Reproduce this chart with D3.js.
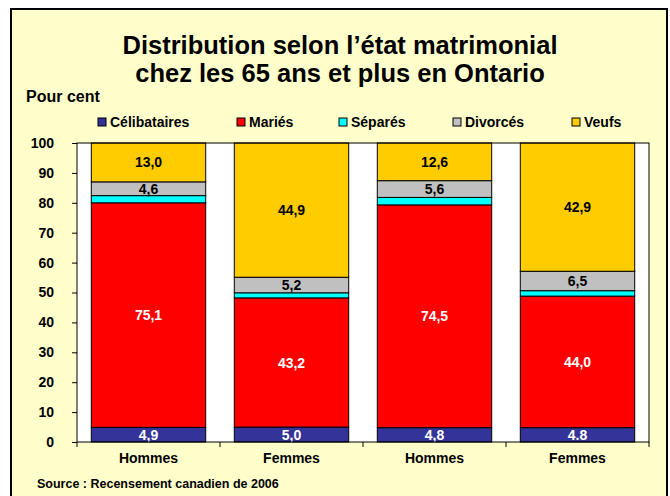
<!DOCTYPE html>
<html>
<head>
<meta charset="utf-8">
<title>Distribution selon l'état matrimonial</title>
<script src="https://d3js.org/d3.v7.min.js"></script>
<style>
  body { margin: 0; background: #fff; }
  text { font-family: Arial, "Liberation Sans", sans-serif; font-weight: bold; }
</style>
</head>
<body>
<script>
// données (pour cent)
var categories = ["Hommes", "Femmes", "Hommes", "Femmes"];
var seriesNames = ["Célibataires", "Mariés", "Séparés", "Divorcés", "Veufs"];
var celibataires = [4.9, 5.0, 4.8, 4.8];
var maries = [75.1, 43.2, 74.5, 44.0];
var separes = [2.4, 1.7, 2.5, 1.8];
var divorces = [4.6, 5.2, 5.6, 6.5];
var veufs = [13.0, 44.9, 12.6, 42.9];
var yTicks = [0, 10, 20, 30, 40, 50, 60, 70, 80, 90, 100];
var celibatairesText = ["4,9", "5,0", "4,8", "4.8"]; // tel quel dans l'original

var colors = ["#333399", "#FF0000", "#00FFFF", "#C0C0C0", "#FFCC00"];
var labelColors = ["#fff", "#fff", null, "#000", "#000"]; // null = pas d'étiquette
var legendX = [98, 237, 339, 453, 572];

var values = [celibataires, maries, separes, divorces, veufs];
var fmt = function (v) { return d3.format(".1f")(v).replace(".", ","); };

var svg = d3.select("body").append("svg")
    .attr("width", 670)
    .attr("height", 496);

// cadre
svg.append("rect")
    .attr("x", 11).attr("y", 9)
    .attr("width", 656).attr("height", 500)
    .attr("fill", "#FFFFCC")
    .attr("stroke", "#000")
    .attr("stroke-width", 2);

// titre
var title = svg.append("text")
    .attr("x", 340)
    .attr("text-anchor", "middle")
    .attr("font-size", 25.5);
title.append("tspan").attr("x", 340).attr("y", 54).text("Distribution selon l\u2019état matrimonial");
title.append("tspan").attr("x", 340).attr("y", 82).text("chez les 65 ans et plus en Ontario");

svg.append("text")
    .attr("x", 26).attr("y", 102)
    .attr("font-size", 16)
    .text("Pour cent");

// légende
var leg = svg.selectAll("g.leg")
    .data(seriesNames)
    .enter().append("g")
    .attr("class", "leg")
    .attr("transform", function (d, i) { return "translate(" + legendX[i] + ",122)"; });
leg.append("rect")
    .attr("x", 0).attr("y", -4)
    .attr("width", 8).attr("height", 8)
    .attr("fill", function (d, i) { return colors[i]; })
    .attr("stroke", "#000")
    .attr("stroke-width", 1);
leg.append("text")
    .attr("x", 12).attr("y", 0)
    .attr("dy", "0.36em")
    .attr("font-size", 14)
    .text(function (d) { return d; });

// échelles
var x = d3.scaleBand()
    .domain(d3.range(categories.length))
    .range([77, 649])
    .paddingInner(0.2)
    .paddingOuter(0.1);

var y = d3.scaleLinear()
    .domain([0, 100])
    .range([442, 143]);

// zone du graphique
svg.append("rect")
    .attr("x", 77).attr("y", y(100))
    .attr("width", 649 - 77).attr("height", y(0) - y(100))
    .attr("fill", "#fff");

// piles
var stackData = categories.map(function (c, i) {
    var row = { i: i };
    seriesNames.forEach(function (s, k) { row[s] = values[k][i]; });
    return row;
});
var stacked = d3.stack().keys(seriesNames)(stackData);

var layers = svg.selectAll("g.layer")
    .data(stacked)
    .enter().append("g")
    .attr("class", "layer")
    .attr("fill", function (d, k) { return colors[k]; });

layers.selectAll("rect")
    .data(function (d) { return d; })
    .enter().append("rect")
    .attr("x", function (d) { return x(d.data.i); })
    .attr("width", x.bandwidth())
    .attr("y", function (d) { return y(d[1]); })
    .attr("height", function (d) { return y(d[0]) - y(d[1]); })
    .attr("stroke", "#000")
    .attr("stroke-width", 1);

layers.each(function (layer, k) {
    if (!labelColors[k]) return;
    d3.select(this).selectAll("text")
        .data(layer)
        .enter().append("text")
        .attr("x", function (d) { return x(d.data.i) + x.bandwidth() / 2; })
        .attr("y", function (d) { return (y(d[0]) + y(d[1])) / 2; })
        .attr("dy", "0.36em")
        .attr("text-anchor", "middle")
        .attr("font-size", 14)
        .attr("fill", labelColors[k])
        .text(function (d, i) { return k === 0 ? celibatairesText[i] : fmt(d[1] - d[0]); });
});

// bordure de la zone
svg.append("rect")
    .attr("x", 77).attr("y", y(100))
    .attr("width", 649 - 77).attr("height", y(0) - y(100))
    .attr("fill", "none")
    .attr("stroke", "#000")
    .attr("stroke-width", 1);

// axe y
var yAxis = svg.append("g")
    .attr("transform", "translate(77,0)")
    .call(d3.axisLeft(y).tickValues(yTicks).tickSize(5).tickPadding(18));
yAxis.select(".domain").remove();
yAxis.selectAll("text")
    .attr("font-size", 14)
    .attr("font-family", "Arial, 'Liberation Sans', sans-serif")
    .attr("fill", "#000");
yAxis.selectAll("line").attr("stroke", "#000");

// axe x : graduations entre les catégories
var bounds = d3.range(categories.length + 1).map(function (i) {
    return i < categories.length ? x(i) - x.step() * x.paddingInner() / 2 : x.range()[1];
});
svg.append("g").selectAll("line")
    .data(bounds)
    .enter().append("line")
    .attr("x1", function (d) { return d; })
    .attr("x2", function (d) { return d; })
    .attr("y1", y(0))
    .attr("y2", y(0) + 5)
    .attr("stroke", "#000");

svg.append("g").selectAll("text")
    .data(categories)
    .enter().append("text")
    .attr("x", function (d, i) { return x(i) + x.bandwidth() / 2; })
    .attr("y", 463)
    .attr("text-anchor", "middle")
    .attr("font-size", 14)
    .text(function (d) { return d; });

svg.append("text")
    .attr("x", 37).attr("y", 488)
    .attr("font-size", 12.5)
    .text("Source : Recensement canadien de 2006");
</script>
</body>
</html>
